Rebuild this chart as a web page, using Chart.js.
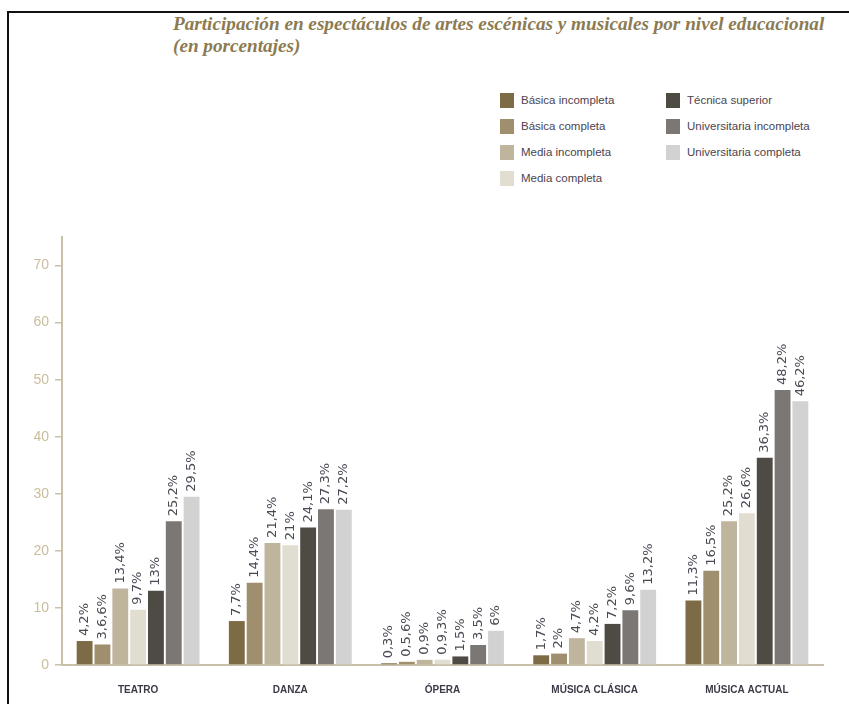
<!DOCTYPE html>
<html>
<head>
<meta charset="utf-8">
<script src="https://cdn.jsdelivr.net/npm/chart.js@4"></script>
<style>
    html, body { margin: 0; padding: 0; background: #ffffff; }
    #wrap { position: relative; width: 849px; height: 704px; overflow: hidden; }
    #frame { position: absolute; left: 7px; top: 11px; width: 850px; height: 700px;
        border-top: 2px solid #111; border-left: 2px solid #111; }
    #title { position: absolute; left: 173px; top: 13px; font-family: 'Liberation Serif', serif;
        font-style: italic; font-weight: bold; font-size: 19.2px; line-height: 22px; color: #8c7b52;
        white-space: nowrap; }
    #legend { position: absolute; left: 500px; top: 93px; font-family: 'Liberation Sans', sans-serif;
        font-size: 11.5px; color: #4d4350; }
    .item { position: absolute; white-space: nowrap; height: 15px; line-height: 15px; }
    .item span.box { position: absolute; left: 0; top: 0; width: 14px; height: 15px; }
    .item span.txt { position: absolute; left: 21px; top: 0; }
    canvas { position: absolute; left: 0; top: 0; }
</style>
</head>
<body>
<div id="wrap">
    <div id="frame"></div>
    <div id="title">Participación en espectáculos de artes escénicas y musicales por nivel educacional<br>(en porcentajes)</div>
    <div id="legend"></div>
    <canvas id="chart" width="849" height="704"></canvas>
</div>
<script>
// categories
let categories = ["TEATRO", "DANZA", "ÓPERA", "MÚSICA CLÁSICA", "MÚSICA ACTUAL"];
let levels = ["Básica incompleta", "Básica completa", "Media incompleta", "Media completa",
    "Técnica superior", "Universitaria incompleta", "Universitaria completa"];
let colors = ['#7d6b45', '#a08f6e', '#bfb59d', '#e2ddd1', '#4e4a44', '#7b7774', '#d2d2d2'];

// values per education level (one value per category)
let basicaIncompleta = [4.2, 7.7, 0.3, 1.7, 11.3];
let basicaCompleta = [3.6, 14.4, 0.56, 2, 16.5];
let mediaIncompleta = [13.4, 21.4, 0.9, 4.7, 25.2];
let mediaCompleta = [9.7, 21, 0.93, 4.2, 26.6];
let tecnicaSuperior = [13, 24.1, 1.5, 7.2, 36.3];
let univIncompleta = [25.2, 27.3, 3.5, 9.6, 48.2];
let univCompleta = [29.5, 27.2, 6, 13.2, 46.2];

// labels as printed above the bars
let basicaIncompletaTxt = ["4,2%", "7,7%", "0,3%", "1,7%", "11,3%"];
let basicaCompletaTxt = ["3,6,6%", "14,4%", "0,5,6%", "2%", "16,5%"];
let mediaIncompletaTxt = ["13,4%", "21,4%", "0,9%", "4,7%", "25,2%"];
let mediaCompletaTxt = ["9,7%", "21%", "0,9,3%", "4,2%", "26,6%"];
let tecnicaSuperiorTxt = ["13%", "24,1%", "1,5%", "7,2%", "36,3%"];
let univIncompletaTxt = ["25,2%", "27,3%", "3,5%", "9,6%", "48,2%"];
let univCompletaTxt = ["29,5%", "27,2%", "6%", "13,2%", "46,2%"];

let yTicks = [0, 10, 20, 30, 40, 50, 60, 70];

let seriesValues = [basicaIncompleta, basicaCompleta, mediaIncompleta, mediaCompleta,
    tecnicaSuperior, univIncompleta, univCompleta];
let seriesTexts = [basicaIncompletaTxt, basicaCompletaTxt, mediaIncompletaTxt, mediaCompletaTxt,
    tecnicaSuperiorTxt, univIncompletaTxt, univCompletaTxt];

// html legend, two columns
let legendPos = [[0, 0], [0, 26], [0, 52], [0, 78], [166, 0], [166, 26], [166, 52]];
let legendDiv = document.getElementById('legend');
levels.forEach(function (name, i) {
    let item = document.createElement('div');
    item.className = 'item';
    item.style.left = legendPos[i][0] + 'px';
    item.style.top = legendPos[i][1] + 'px';
    item.innerHTML = '<span class="box" style="background:' + colors[i] + '"></span><span class="txt">' + name + '</span>';
    legendDiv.appendChild(item);
});

// rotated value labels above each bar
let barLabels = {
    id: 'barLabels',
    afterDatasetsDraw: function (chart) {
        let ctx = chart.ctx;
        ctx.save();
        ctx.font = '13px "DejaVu Sans"';
        ctx.fillStyle = '#4a4a55';
        ctx.textAlign = 'left';
        ctx.textBaseline = 'middle';
        chart.data.datasets.forEach(function (ds, i) {
            chart.getDatasetMeta(i).data.forEach(function (bar, j) {
                ctx.save();
                ctx.translate(bar.x, bar.y - 5);
                ctx.rotate(-Math.PI / 2);
                ctx.fillText(seriesTexts[i][j], 0, 0);
                ctx.restore();
            });
        });
        ctx.restore();
    }
};

let chart = document.getElementById('chart').getContext('2d');
new Chart(chart, {
    type: 'bar',
    data: {
        labels: categories,
        datasets: levels.map(function (name, i) {
            return {
                label: name,
                data: seriesValues[i],
                backgroundColor: colors[i],
                barPercentage: 0.89,
                categoryPercentage: 0.82
            };
        })
    },
    options: {
        responsive: false,
        animation: false,
        layout: {
            padding: { left: 0, right: 26, top: 237, bottom: 0 }
        },
        plugins: {
            legend: { display: false },
            tooltip: { enabled: false }
        },
        scales: {
            x: {
                grid: { display: false },
                border: { color: '#c9c0aa', width: 2 },
                ticks: {
                    color: '#3b3b48',
                    font: { family: 'Liberation Sans', size: 10, weight: 'bold' },
                    padding: 11
                },
                afterFit: function (scale) { scale.height = 39; }
            },
            y: {
                min: 0,
                max: 75,
                grid: { drawOnChartArea: false, color: '#c9c0aa', tickLength: 7, lineWidth: 1.5 },
                border: { color: '#c9c0aa', width: 2 },
                afterBuildTicks: function (scale) {
                    scale.ticks = yTicks.map(function (v) { return { value: v }; });
                },
                ticks: {
                    color: '#cbbd9c',
                    font: { family: 'Liberation Sans', size: 14 },
                    padding: 6
                },
                afterFit: function (scale) { scale.width = 62; }
            }
        }
    },
    plugins: [barLabels]
});
</script>
</body>
</html>
